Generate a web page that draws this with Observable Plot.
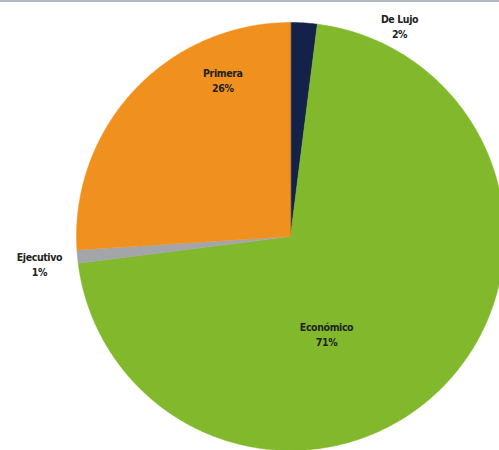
<!DOCTYPE html>
<html>
<head>
<meta charset="utf-8">
<script src="https://cdn.jsdelivr.net/npm/d3@7"></script>
<script src="https://cdn.jsdelivr.net/npm/@observablehq/plot@0.6"></script>
<style>
  html, body { margin: 0; padding: 0; background: #fff; }
  #chart { width: 499px; height: 450px; overflow: hidden; position: relative; }
  #topline { position: absolute; left: 0; top: 0; width: 499px; height: 2px; background: #b4b6c0; z-index: 2; }
</style>
</head>
<body>
<div id="chart"><div id="topline"></div></div>
<script>
// Data (clockwise from 12 o'clock)
const categories = ["De Lujo", "Económico", "Ejecutivo", "Primera"];
const values = [2, 71, 1, 26];
const labels = ["2%", "71%", "1%", "26%"];
const colors = ["#14224a", "#82b82c", "#a3a5a8", "#f0911f"];

// Layout (unit-circle coordinates mapped by linear scales)
const W = 499, H = 450, cx = 290, cy = 236, R = 214;

const pie = d3.pie().sort(null).value(d => d)(values);

// Slice outlines as polygons in unit coordinates
const slicePts = [];
pie.forEach((p, i) => {
  const a0 = p.startAngle, a1 = p.endAngle;
  const n = Math.max(2, Math.ceil((a1 - a0) / (Math.PI / 360)));
  slicePts.push({cat: categories[i], x: 0, y: 0});
  for (let k = 0; k <= n; k++) {
    const a = a0 + (a1 - a0) * k / n;
    slicePts.push({cat: categories[i], x: Math.sin(a), y: Math.cos(a)});
  }
});

// Label placement: [radius factor, angle offset (rad)] per slice
const labelPos = [
  {r: 1.11, da: 0.414},   // De Lujo (outside)
  {r: 0.484, da: 0.43},   // Económico
  {r: 1.18, da: -0.012},  // Ejecutivo (outside)
  {r: 0.80, da: 0.41}     // Primera
];
const labelData = pie.map((p, i) => {
  const a = (p.startAngle + p.endAngle) / 2 + labelPos[i].da;
  const r = labelPos[i].r;
  return {cat: categories[i], text: categories[i] + "\n" + labels[i], x: r * Math.sin(a), y: r * Math.cos(a)};
});

const chart = Plot.plot({
  width: W,
  height: H,
  margin: 0,
  x: {domain: [-cx / R, (W - cx) / R], range: [0, W], axis: null},
  y: {domain: [-(H - cy) / R, cy / R], range: [H, 0], axis: null},
  color: {domain: categories, range: colors},
  style: {background: "transparent"},
  marks: [
    Plot.line(slicePts, {x: "x", y: "y", z: "cat", fill: "cat", stroke: "cat", strokeWidth: 0.5, curve: "linear-closed"}),
    Plot.text(labelData, {
      x: "x", y: "y", text: "text",
      fontSize: 10.5, fontWeight: "bold",
      fontFamily: "'Liberation Sans Narrow', 'DejaVu Sans Condensed', sans-serif",
      fill: "#222",
      lineHeight: 1.45
    })
  ]
});
chart.querySelectorAll("text").forEach(t => { t.style.letterSpacing = "-0.4px"; t.style.fontStretch = "condensed"; });
document.getElementById("chart").appendChild(chart);
chart.style.position = "absolute";
chart.style.left = "0";
chart.style.top = "0";
</script>
</body>
</html>
